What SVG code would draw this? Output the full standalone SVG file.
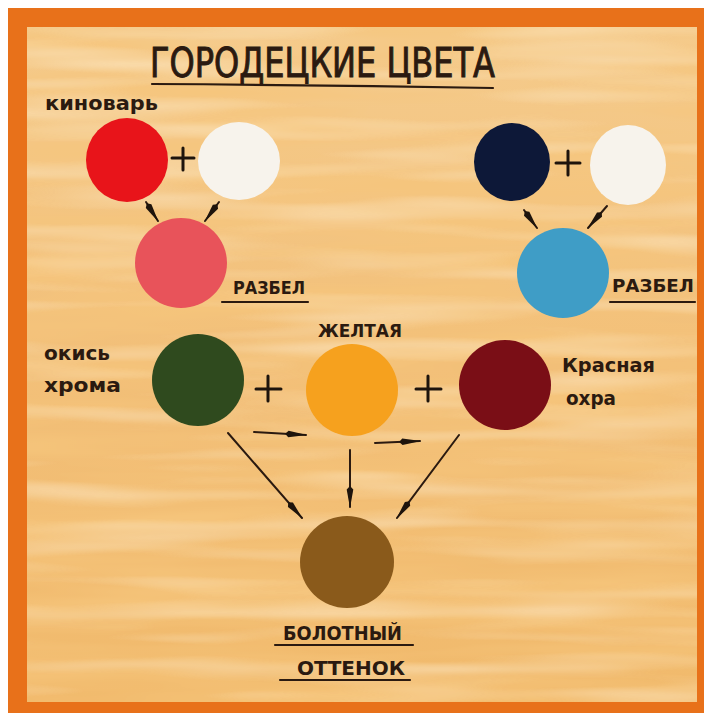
<svg xmlns="http://www.w3.org/2000/svg" width="704" height="715" viewBox="0 0 704 715">
<defs>
<style>
.lbl{font-family:"Liberation Sans Narrow","DejaVu Sans Condensed","Liberation Sans",sans-serif;font-weight:bold;fill:#2b1a10;}
.ttl{font-weight:normal;stroke:#2b1a10;stroke-width:0.9;}
.ul{stroke:#2b1a10;stroke-width:2.2;fill:none;stroke-linecap:round;}
.plus{stroke:#1e140c;stroke-width:3;stroke-linecap:round;}
.arr{stroke:#2b1a10;stroke-width:2;fill:none;stroke-linecap:round;marker-end:url(#dart);}
</style>
<marker id="dart" viewBox="0 0 20 8" refX="19" refY="4" markerWidth="11" markerHeight="4.4" orient="auto" markerUnits="strokeWidth">
<path d="M0,4 L3,1 L20,4 L3,7 Z" fill="#1e140c"/>
</marker>
<filter id="grain" x="0" y="0" width="100%" height="100%">
<feTurbulence type="fractalNoise" baseFrequency="0.003 0.035" numOctaves="3" seed="7" result="n"/>
<feColorMatrix in="n" type="matrix" values="0 0 0 0 0.92  0 0 0 0 0.56  0 0 0 0 0.2  0 0 0 1.8 -0.62"/>
</filter>
<filter id="light" x="0" y="0" width="100%" height="100%">
<feTurbulence type="fractalNoise" baseFrequency="0.004 0.05" numOctaves="2" seed="21" result="n"/>
<feColorMatrix in="n" type="matrix" values="0 0 0 0 1  0 0 0 0 0.9  0 0 0 0 0.72  0 0 0 1.4 -0.62"/>
</filter>
<linearGradient id="paper" x1="0" y1="0" x2="0" y2="1">
<stop offset="0" stop-color="#F5CB8C"/>
<stop offset="0.5" stop-color="#F2BF78"/>
<stop offset="1" stop-color="#F1BA6C"/>
</linearGradient>
</defs>
<rect width="704" height="715" fill="#ffffff"/>
<rect x="8" y="8" width="696" height="705" fill="#E8711A"/>
<rect x="27" y="27" width="670" height="675" fill="url(#paper)"/>
<rect x="27" y="27" width="670" height="675" filter="url(#grain)"/>
<rect x="27" y="27" width="670" height="675" filter="url(#light)" opacity="0.7"/>
<g id="title">
<text class="lbl ttl" x="150" y="77" font-size="40" textLength="345" lengthAdjust="spacingAndGlyphs">ГОРОДЕЦКИЕ ЦВЕТА</text>
<path class="ul" d="M152,84 Q320,85 493,88"/>
</g>
<g id="connectors">
<line class="arr" x1="146" y1="202" x2="158" y2="221"/>
<line class="arr" x1="219" y1="202" x2="205" y2="221"/>
<line class="arr" x1="524" y1="210" x2="537" y2="228"/>
<line class="arr" x1="607" y1="206" x2="588" y2="228"/>
<line class="arr" x1="254" y1="432" x2="306" y2="435"/>
<line class="arr" x1="375" y1="443" x2="420" y2="441"/>
<line class="arr" x1="228" y1="433" x2="302" y2="518"/>
<line class="arr" x1="350" y1="450" x2="350" y2="507"/>
<line class="arr" x1="459" y1="435" x2="397" y2="518"/>
</g>
<g id="kinovar">
<ellipse cx="127" cy="160" rx="41" ry="42" fill="#E8141A"/>
<text class="lbl" x="45" y="110" font-size="19" textLength="113" lengthAdjust="spacingAndGlyphs">киноварь</text>
</g>
<g id="plus1"><path class="plus" d="M172,158 H194 M183,148 V170"/></g>
<g id="white1"><ellipse cx="239" cy="161" rx="41" ry="39" fill="#F7F3EC"/></g>
<g id="razbel-red">
<ellipse cx="181" cy="263" rx="46" ry="45" fill="#E8535A"/>
<text class="lbl" x="233" y="294" font-size="18" textLength="72" lengthAdjust="spacingAndGlyphs">РАЗБЕЛ</text>
<path class="ul" d="M222,302 H308"/>
</g>
<g id="blue"><ellipse cx="512" cy="162" rx="38" ry="39" fill="#0D1838"/></g>
<g id="plus2"><path class="plus" d="M556,163 H580 M568,151 V175"/></g>
<g id="white2"><ellipse cx="628" cy="165" rx="38" ry="40" fill="#F7F3EC"/></g>
<g id="razbel-blue">
<ellipse cx="563" cy="273" rx="46" ry="45" fill="#3F9DC6"/>
<text class="lbl" x="612" y="292" font-size="18" textLength="82" lengthAdjust="spacingAndGlyphs">РАЗБЕЛ</text>
<path class="ul" d="M610,302 H695"/>
</g>
<g id="okis-hroma">
<ellipse cx="198" cy="380" rx="46" ry="46" fill="#2F4A1E"/>
<text class="lbl" x="44" y="360" font-size="19" textLength="66" lengthAdjust="spacingAndGlyphs">окись</text>
<text class="lbl" x="44" y="392" font-size="19" textLength="77" lengthAdjust="spacingAndGlyphs">хрома</text>
</g>
<g id="plus3"><path class="plus" d="M256,389 H281 M268,376 V401"/></g>
<g id="zheltaya">
<ellipse cx="352" cy="390" rx="46" ry="46" fill="#F6A11E"/>
<text class="lbl" x="318" y="337" font-size="18" textLength="84" lengthAdjust="spacingAndGlyphs">ЖЕЛТАЯ</text>
</g>
<g id="plus4"><path class="plus" d="M416,389 H441 M428,376 V401"/></g>
<g id="krasnaya-ohra">
<ellipse cx="505" cy="385" rx="46" ry="45" fill="#7A0E16"/>
<text class="lbl" x="562" y="372" font-size="19" textLength="93" lengthAdjust="spacingAndGlyphs">Красная</text>
<text class="lbl" x="566" y="405" font-size="19" textLength="50" lengthAdjust="spacingAndGlyphs">охра</text>
</g>
<g id="bolotny">
<ellipse cx="347" cy="562" rx="47" ry="46" fill="#8A5A1B"/>
<text class="lbl" x="283" y="640" font-size="20" textLength="119" lengthAdjust="spacingAndGlyphs">БОЛОТНЫЙ</text>
<path class="ul" d="M275,645 H413"/>
<text class="lbl" x="297" y="675" font-size="20" textLength="108" lengthAdjust="spacingAndGlyphs">ОТТЕНОК</text>
<path class="ul" d="M280,680 H410"/>
</g>
</svg>
